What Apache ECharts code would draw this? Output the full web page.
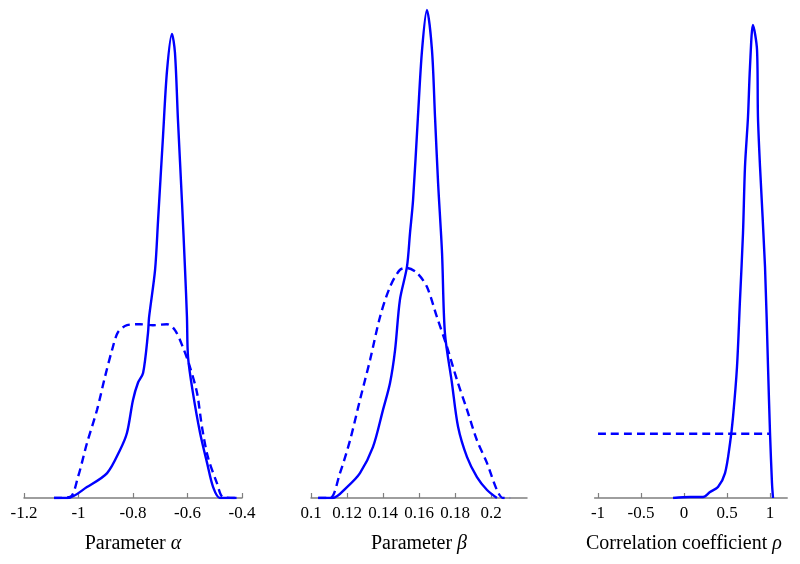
<!DOCTYPE html>
<html>
<head>
<meta charset="utf-8">
<script src="https://cdn.jsdelivr.net/npm/echarts@6/dist/echarts.min.js"></script>
<style>
  html, body { margin: 0; padding: 0; background: #fff; }
  #chart { width: 800px; height: 564px; }
</style>
</head>
<body>
<div id="chart"></div>
<script>
// Parameter alpha: posterior (solid) and prior (dashed) densities
const alphaPostX = [-1.09, -1.04, -0.969, -0.895, -0.848, -0.822, -0.8, -0.782, -0.763, -0.745, -0.741, -0.719, -0.708, -0.69, -0.675, -0.657, -0.646, -0.635, -0.62, -0.609, -0.602, -0.598, -0.58, -0.554, -0.528, -0.506, -0.481, -0.42];
const alphaPostY = [0, 0, 0.22, 0.5, 0.96, 1.31, 1.97, 2.31, 2.51, 3.31, 3.63, 4.58, 5.58, 7.25, 8.59, 9.32, 8.94, 7.59, 5.92, 4.58, 3.63, 2.83, 2.11, 1.31, 0.7, 0.22, 0, 0];
const alphaPriorX = [-1.09, -1.031, -1.002, -0.969, -0.932, -0.903, -0.877, -0.855, -0.822, -0.774, -0.727, -0.675, -0.646, -0.617, -0.591, -0.565, -0.547, -0.525, -0.492, -0.47, -0.42];
const alphaPriorY = [0, 0.02, 0.42, 1.1, 1.77, 2.43, 2.97, 3.33, 3.47, 3.49, 3.47, 3.49, 3.37, 3.03, 2.63, 2.11, 1.43, 0.82, 0.3, 0.02, 0];

// Parameter beta
const betaPostX = [0.104, 0.112, 0.12, 0.1272, 0.1344, 0.14, 0.1439, 0.1467, 0.1494, 0.1533, 0.155, 0.1567, 0.1594, 0.1617, 0.1644, 0.1672, 0.1689, 0.1706, 0.1728, 0.1744, 0.1783, 0.1817, 0.1867, 0.1922, 0.1978, 0.2033];
const betaPostY = [0, 0, 0.22, 0.5, 1.02, 1.77, 2.31, 2.97, 3.98, 4.64, 5.32, 5.98, 7.65, 9.0, 9.8, 9.0, 7.65, 6.33, 4.92, 3.31, 2.31, 1.43, 0.82, 0.42, 0.16, 0];
const betaPriorX = [0.104, 0.1106, 0.1161, 0.1217, 0.1272, 0.1328, 0.1383, 0.1439, 0.1494, 0.1533, 0.1589, 0.1644, 0.17, 0.1756, 0.1811, 0.1867, 0.1922, 0.1978, 0.2033, 0.2067, 0.2106];
const betaPriorY = [0, 0, 0.5, 1.16, 1.97, 2.77, 3.63, 4.24, 4.58, 4.62, 4.52, 4.24, 3.63, 3.03, 2.37, 1.77, 1.16, 0.7, 0.16, 0, 0];

// Correlation coefficient rho
const rhoPostX = [-0.128, 0.07, 0.221, 0.302, 0.395, 0.477, 0.535, 0.57, 0.616, 0.651, 0.686, 0.709, 0.744, 0.767, 0.802, 0.849, 0.86, 0.884, 0.942, 0.977, 1.0, 1.023, 1.035];
const rhoPostY = [0, 0.02, 0.02, 0.12, 0.22, 0.5, 1.1, 1.63, 2.63, 3.98, 5.32, 6.65, 7.65, 8.65, 9.5, 9.0, 7.65, 6.65, 4.64, 2.63, 1.31, 0.3, 0];
const rhoPriorX = [-1, 1];
const rhoPriorY = [1.29, 1.29];

const alphaTicks = [-1.2, -1, -0.8, -0.6, -0.4];
const betaTicks = [0.1, 0.12, 0.14, 0.16, 0.18, 0.2];
const rhoTicks = [-1, -0.5, 0, 0.5, 1];

const names = ['Parameter {g|α}', 'Parameter {g|β}', 'Correlation coefficient {g|ρ}'];

const zip = (xs, ys) => xs.map((x, i) => [x, ys[i]]);

const serif = '"Liberation Serif", "DejaVu Serif", serif';
const blue = '#0000ff';
const grey = '#7f7f7f';

const grids = [
  { left: 24, width: 218, top: 0, bottom: 66 },
  { left: 311, width: 216, top: 0, bottom: 66 },
  { left: 594.6, width: 192.6, top: 0, bottom: 66 }
];

function xAxis(i, min, max, ticks, shift) {
  return {
    type: 'value', gridIndex: i, min: min, max: max,
    name: names[i], nameLocation: 'middle', nameGap: 36,
    nameTextStyle: {
      fontFamily: serif, fontSize: 20, color: '#000', padding: [0, shift, 0, 0],
      rich: { g: { fontFamily: serif, fontSize: 20, fontStyle: 'italic', color: '#000' } }
    },
    axisLine: { show: true, lineStyle: { color: grey, width: 1.5 } },
    axisTick: { show: true, inside: true, length: 5, customValues: ticks, lineStyle: { color: grey, width: 1.2 } },
    axisLabel: { customValues: ticks, margin: 7, fontFamily: serif, fontSize: 17, color: '#000' },
    splitLine: { show: false }
  };
}

function yAxis(i) {
  return { type: 'value', gridIndex: i, min: 0, max: 10, show: false };
}

function line(i, data, dashed) {
  return {
    type: 'line', xAxisIndex: i, yAxisIndex: i, data: data,
    showSymbol: false, smooth: 0.3, animation: false,
    lineStyle: { color: blue, width: 2.4, type: dashed ? [8, 5] : 'solid' }
  };
}

const chart = echarts.init(document.getElementById('chart'));
chart.setOption({
  backgroundColor: '#fff',
  animation: false,
  grid: grids,
  xAxis: [
    xAxis(0, -1.2, -0.4, alphaTicks, 0),
    xAxis(1, 0.1, 0.22, betaTicks, 0),
    xAxis(2, -1.04, 1.2, rhoTicks, 14)
  ],
  yAxis: [yAxis(0), yAxis(1), yAxis(2)],
  series: [
    line(0, zip(alphaPostX, alphaPostY), false),
    line(0, zip(alphaPriorX, alphaPriorY), true),
    line(1, zip(betaPostX, betaPostY), false),
    line(1, zip(betaPriorX, betaPriorY), true),
    line(2, zip(rhoPostX, rhoPostY), false),
    line(2, zip(rhoPriorX, rhoPriorY), true)
  ]
});
</script>
</body>
</html>
